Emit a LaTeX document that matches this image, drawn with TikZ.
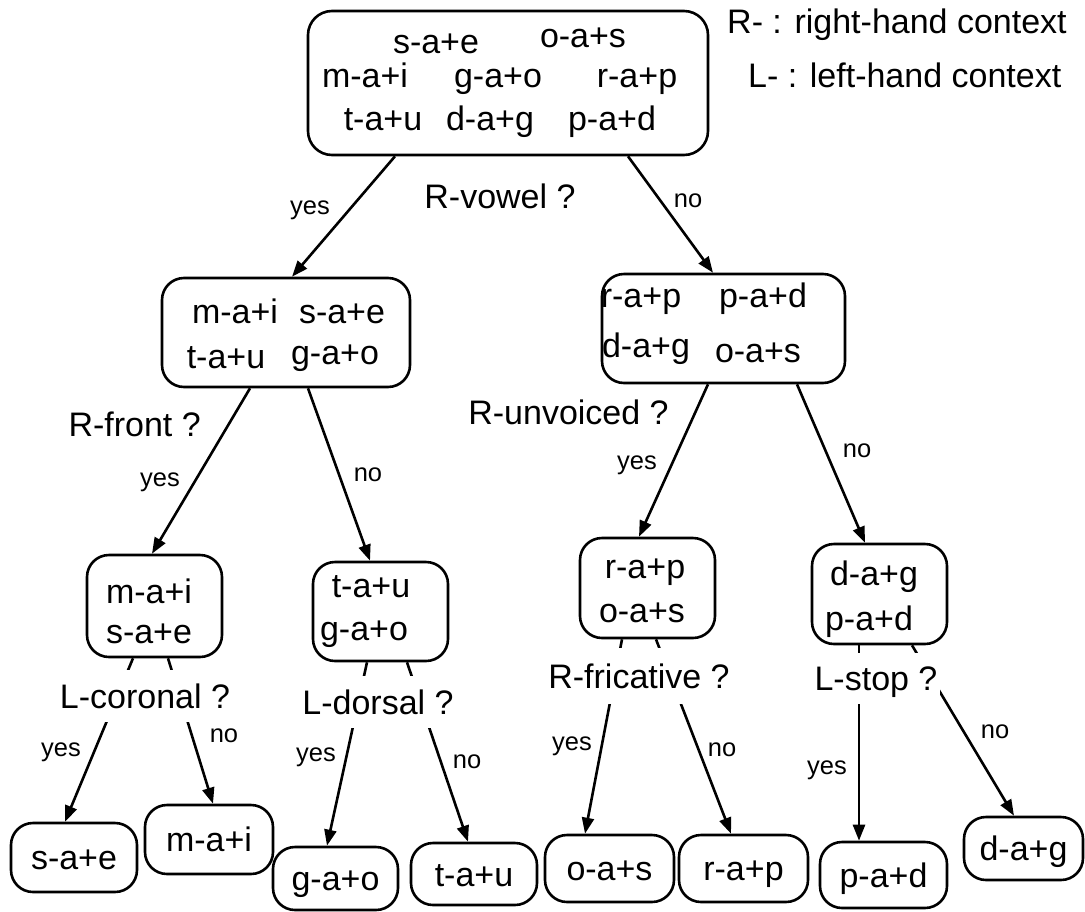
\documentclass[tikz,border=0pt]{standalone}
\usepackage{fontspec}
\setmainfont{Liberation Sans}
\usetikzlibrary{arrows.meta}
\begin{document}
\begin{tikzpicture}[x=1pt,y=-1pt,
  box/.style={draw, line width=2.6pt, rounded corners=22pt, inner sep=0pt},
  big/.style={font=\fontsize{34pt}{40pt}\selectfont, inner sep=0pt, text height=24pt, text depth=0pt},
  small/.style={font=\fontsize{25.5pt}{30pt}\selectfont, inner sep=0pt, text height=13pt, text depth=5pt},
  leaf/.style={box, font=\fontsize{34pt}{40pt}\selectfont, text height=24pt, text depth=0pt},
  quest/.style={big, fill=white, inner xsep=3pt},
  conn/.style={line width=2.6pt, -{Triangle[length=16pt,width=12pt]}}]
\useasboundingbox (0,0) rectangle (1085,911);

% legend
\node[big, anchor=west] (legR) at (727,21) {R- : right-hand context};
\node[big, anchor=west] (legL) at (748,75) {L- : left-hand context};

% root
\node[box, minimum width=400pt, minimum height=144pt, rounded corners=24pt] (top) at (508,83) {};
\node[big] (t1) at (436,41) {s-a+e};
\node[big] (t2) at (583,35) {o-a+s};
\node[big] (t3) at (365,75) {m-a+i};
\node[big] (t4) at (498,75) {g-a+o};
\node[big] (t5) at (637,75) {r-a+p};
\node[big] (t6) at (383,118) {t-a+u};
\node[big] (t7) at (490,118) {d-a+g};
\node[big] (t8) at (612,118) {p-a+d};

% second level
\node[box, minimum width=248pt, minimum height=109pt] (L2) at (286,332.5) {};
\node[big] (l1) at (235,311) {m-a+i};
\node[big] (l2) at (342,311) {s-a+e};
\node[big] (l3) at (226,356) {t-a+u};
\node[big] (l4) at (335,352) {g-a+o};

\node[box, minimum width=243pt, minimum height=109pt] (R2) at (723.5,328.5) {};
\node[big] (r1) at (641,295) {r-a+p};
\node[big] (r2) at (763,295) {p-a+d};
\node[big] (r3) at (646,345) {d-a+g};
\node[big] (r4) at (758,350) {o-a+s};

% third level
\node[box, minimum width=135pt, minimum height=102pt] (A) at (154.5,606) {};
\node[big] (a1) at (149,591) {m-a+i};
\node[big] (a2) at (149,631) {s-a+e};

\node[box, minimum width=135pt, minimum height=99pt] (B) at (380.5,611.5) {};
\node[big] (b1) at (371,585) {t-a+u};
\node[big] (b2) at (364,628) {g-a+o};

\node[box, minimum width=135pt, minimum height=100pt] (C) at (647.5,588) {};
\node[big] (c1) at (645,566) {r-a+p};
\node[big] (c2) at (642,610) {o-a+s};

\node[box, minimum width=135pt, minimum height=100pt] (D) at (879.5,594) {};
\node[big] (d1) at (874,573) {d-a+g};
\node[big] (d2) at (869,618) {p-a+d};

% leaves
\node[leaf, minimum width=126pt, minimum height=69pt] (sae) at (74,857.5) {s-a+e};
\node[leaf, minimum width=128pt, minimum height=69pt] (mai) at (209,839.5) {m-a+i};
\node[leaf, minimum width=125pt, minimum height=63pt] (gao) at (335.5,878.5) {g-a+o};
\node[leaf, minimum width=126pt, minimum height=62pt] (tau) at (474,874) {t-a+u};
\node[leaf, minimum width=129pt, minimum height=67pt] (oas) at (609.5,868.5) {o-a+s};
\node[leaf, minimum width=129pt, minimum height=67pt] (rap) at (743.5,868.5) {r-a+p};
\node[leaf, minimum width=127pt, minimum height=66pt] (pad) at (883.5,875) {p-a+d};
\node[leaf, minimum width=119pt, minimum height=63pt] (dag) at (1023.5,848.5) {d-a+g};

% connectors
\draw[conn] ([xshift=-113pt]top.south) -- ([xshift=6pt]L2.north);
\draw[conn] ([xshift=120pt]top.south) -- ([xshift=-10.5pt]R2.north);
\draw[conn] ([xshift=-36pt]L2.south) -- ([xshift=-2.5pt]A.north);
\draw[conn] ([xshift=22pt]L2.south) -- ([xshift=-10.5pt]B.north);
\draw[conn] ([xshift=-15.5pt]R2.south) -- ([xshift=-8.5pt]C.north);
\draw[conn] ([xshift=73.5pt]R2.south) -- ([xshift=-14.5pt]D.north);
\draw[conn] ([xshift=-21.5pt]A.south) -- ([xshift=-9pt]sae.north);
\draw[conn] ([xshift=13.5pt]A.south) -- ([xshift=4pt]mai.north);
\draw[conn] ([xshift=-13.5pt]B.south) -- ([xshift=-8.5pt]gao.north);
\draw[conn] ([xshift=26.5pt]B.south) -- ([xshift=-6pt]tau.north);
\draw[conn] ([xshift=-25.5pt]C.south) -- ([xshift=-24.5pt]oas.north);
\draw[conn] ([xshift=8.5pt]C.south) -- ([xshift=-12.5pt]rap.north);
\draw[conn] ([xshift=-20.5pt]D.south) -- ([xshift=-24.5pt]pad.north);
\draw[conn] ([xshift=32.5pt]D.south) -- ([xshift=-9.5pt]dag.north);

% questions
\node[big] (qv) at (500,196) {R-vowel ?};
\node[big, anchor=east] (qf) at (201,424) {R-front ?};
\node[big] (qu) at (568.5,412) {R-unvoiced ?};
\node[quest, minimum height=52pt] (qc) at (145,696) {L-coronal ?};
\node[quest, minimum height=52pt] (qd) at (378,702) {L-dorsal ?};
\node[quest, minimum height=56pt] (qr) at (639,676) {R-fricative ?};
\node[quest, minimum height=51pt] (qs) at (876,678.5) {L-stop ?};

% yes / no
\node[small] (y1) at (310,210) {yes};
\node[small] (n1) at (688,203) {no};
\node[small] (y2) at (160,482) {yes};
\node[small] (n2) at (368,477) {no};
\node[small] (y3) at (637,465) {yes};
\node[small] (n3) at (857,453) {no};
\node[small] (y4) at (61,752) {yes};
\node[small] (n4) at (224,738) {no};
\node[small] (y5) at (316,757) {yes};
\node[small] (n5) at (467,764) {no};
\node[small] (y6) at (572,746) {yes};
\node[small] (n6) at (722,752) {no};
\node[small] (y7) at (827,770) {yes};
\node[small] (n7) at (995,734) {no};
\end{tikzpicture}
\end{document}
